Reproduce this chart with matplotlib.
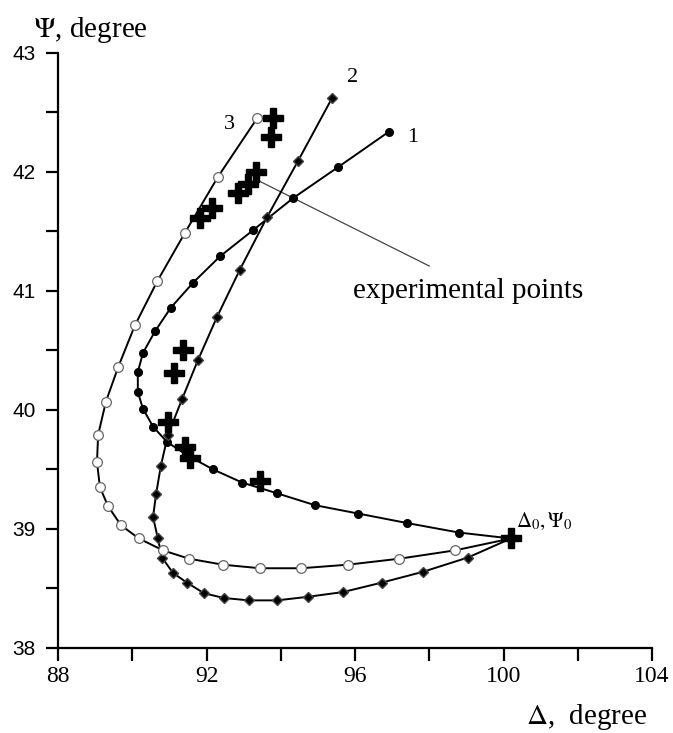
import numpy as np
import matplotlib.pyplot as plt
from matplotlib.ticker import MultipleLocator

# curve 1 (filled circles)
delta_1 = [96.92, 95.54, 94.33, 93.25, 92.36, 91.64, 91.04, 90.61, 90.29, 90.15, 90.15, 90.29,
           90.56, 90.94, 91.53, 92.18, 92.96, 93.90, 94.92, 96.08, 97.40, 98.80, 100.20]
psi_1 = [42.34, 42.04, 41.78, 41.51, 41.29, 41.07, 40.86, 40.66, 40.48, 40.32, 40.15, 40.01,
         39.86, 39.73, 39.61, 39.50, 39.39, 39.30, 39.20, 39.13, 39.05, 38.97, 38.92]

# curve 2 (diamonds)
delta_2 = [95.38, 94.46, 93.63, 92.90, 92.28, 91.77, 91.34, 90.96, 90.77, 90.64, 90.56, 90.69,
           90.80, 91.10, 91.47, 91.93, 92.47, 93.14, 93.90, 94.73, 95.68, 96.73, 97.83, 99.04, 100.20]
psi_2 = [42.62, 42.09, 41.62, 41.18, 40.78, 40.42, 40.09, 39.79, 39.53, 39.29, 39.10, 38.92,
         38.76, 38.63, 38.55, 38.46, 38.42, 38.40, 38.40, 38.43, 38.47, 38.55, 38.64, 38.76, 38.92]

# curve 3 (open circles)
delta_3 = [93.36, 92.31, 91.42, 90.67, 90.07, 89.62, 89.29, 89.08, 89.05, 89.13, 89.35, 89.70,
           90.18, 90.83, 91.53, 92.44, 93.44, 94.55, 95.81, 97.19, 98.69, 100.20]
psi_3 = [42.45, 41.96, 41.49, 41.08, 40.71, 40.36, 40.07, 39.79, 39.56, 39.35, 39.19, 39.03,
         38.92, 38.82, 38.75, 38.70, 38.67, 38.67, 38.70, 38.75, 38.82, 38.92]

# experimental points
delta_exp = [93.79, 93.74, 93.33, 93.12, 92.85, 92.15, 91.82, 91.37, 91.12, 90.96, 91.42, 91.56, 93.44, 100.20]
psi_exp = [42.45, 42.29, 42.00, 41.90, 41.82, 41.70, 41.61, 40.50, 40.31, 39.90, 39.69, 39.60, 39.40, 38.92]

plt.rcParams['font.family'] = 'Liberation Serif'
plt.rcParams['mathtext.fontset'] = 'stix'

fig = plt.figure(figsize=(6.73, 7.33), dpi=100)
ax = fig.add_axes([0.0862, 0.116, 0.8826, 0.8117])

ax.plot(delta_1, psi_1, color='black', lw=1.4, marker='o', ms=5.5, mfc='black', mec='black', zorder=3)
ax.plot(delta_2, psi_2, color='black', lw=1.4, marker='D', ms=5, mfc='black', mec='#444444', zorder=3)
ax.plot(delta_3, psi_3, color='black', lw=1.4, marker='o', ms=7, mfc='white', mec='#666666', mew=0.9, zorder=3)
ax.plot(delta_exp, psi_exp, ls='none', marker='P', ms=14, color='black', zorder=4)

ax.set_xlim(88, 104)
ax.set_ylim(38, 43)
ax.xaxis.set_major_locator(MultipleLocator(4))
ax.xaxis.set_minor_locator(MultipleLocator(2))
ax.yaxis.set_major_locator(MultipleLocator(1))
ax.yaxis.set_minor_locator(MultipleLocator(0.5))
for s in ['top', 'right']:
    ax.spines[s].set_visible(False)
for s in ['left', 'bottom']:
    ax.spines[s].set_linewidth(1.6)
ax.tick_params(which='both', direction='out', length=9, width=1.6)
ax.tick_params(axis='x', labelsize=17, pad=4)
ax.tick_params(axis='y', labelsize=15, pad=7)
for lab in ax.get_yticklabels():
    lab.set_family('Liberation Sans')

# curve labels
ax.text(97.55, 42.29, '1', fontsize=16, ha='center', va='center')
ax.text(95.93, 42.79, '2', fontsize=16, ha='center', va='center')
ax.text(92.62, 42.40, '3', fontsize=16, ha='center', va='center')
ax.text(100.35, 39.06, r'$\Delta_0,\Psi_0$', fontsize=15, ha='left', va='center')

# annotation for experimental points
ax.plot([93.38, 98.0], [41.93, 41.21], color='#444444', lw=0.9)
ax.text(99.05, 41.0, 'experimental points', fontsize=21, ha='center', va='center')

fig.text(0.049, 0.959, r'$\Psi$, degree', fontsize=21, ha='left', va='center')
fig.text(0.962, 0.022, r'$\Delta$,  degree', fontsize=21, ha='right', va='center')

plt.savefig('out.png', dpi=100)
